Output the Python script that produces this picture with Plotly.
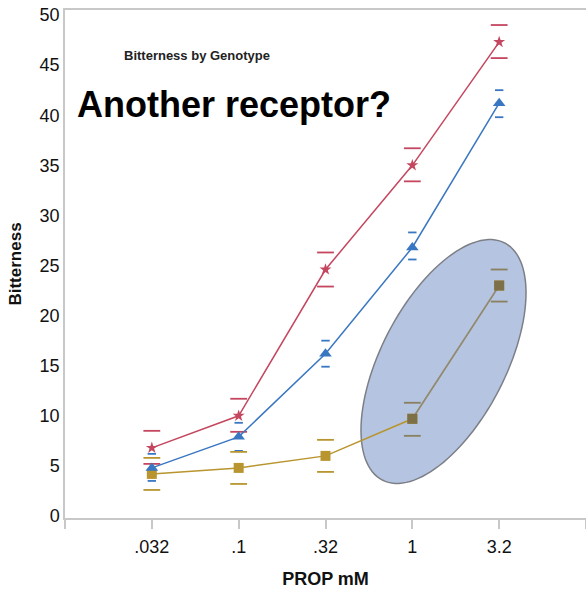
import numpy as np
import plotly.graph_objects as go

categories = [".032", ".1", ".32", "1", "3.2"]
xpos = [1, 2, 3, 4, 5]

red_mean = [6.8, 10.0, 24.6, 35.0, 47.3]
red_hi = [8.5, 11.7, 26.3, 36.7, 49.0]
red_lo = [5.2, 8.4, 22.9, 33.4, 45.7]

blue_mean = [4.8, 7.9, 16.2, 26.8, 41.2]
blue_hi = [6.2, 9.3, 17.5, 28.3, 42.5]
blue_lo = [3.5, 6.5, 14.9, 25.6, 39.8]

gold_mean = [4.2, 4.8, 6.0, 9.7, 23.0]
gold_hi = [5.8, 6.4, 7.6, 11.3, 24.6]
gold_lo = [2.6, 3.2, 4.4, 8.0, 21.4]

RED = "#c4465f"
BLUE = "#3a77c2"
GOLD = "#b8952e"
GOLD_IN = "#7d7048"
LINE_IN = "#8c8a80"
FONT = "Liberation Sans, Arial, sans-serif"

fig = go.Figure()

# ellipse (highlight) drawn in paper coordinates
W, H = 521.0, 508.0
cx, cy = 443.5, 361.5
a, b = 133.4, 62.3
ang = np.deg2rad(62.7)
t = np.linspace(0, 2 * np.pi, 121)
ex = cx + a * np.cos(t) * np.cos(ang) - b * np.sin(t) * np.sin(ang)
ey = cy - (a * np.cos(t) * np.sin(ang) + b * np.sin(t) * np.cos(ang))
px = (ex - 65) / W
py = (518 - ey) / H
path = "M " + " L ".join(f"{x:.4f},{y:.4f}" for x, y in zip(px, py)) + " Z"
fig.add_shape(type="path", path=path, xref="paper", yref="paper",
              fillcolor="#b4c4e1", line=dict(color="#7d7f86", width=1.5), layer="below")


def caps(x, vals, color, size):
    fig.add_trace(go.Scatter(x=x, y=vals, mode="markers", showlegend=False, hoverinfo="skip",
                             marker=dict(symbol="line-ew", size=size,
                                         line=dict(color=color, width=1.8), color=color)))


gold_cap_colors = [GOLD, GOLD, GOLD, "#8a8060", "#8a8060"]

caps(xpos, red_hi, RED, 12)
caps(xpos, red_lo, RED, 12)
caps(xpos, blue_hi, BLUE, 6)
caps(xpos, blue_lo, BLUE, 6)
caps(xpos, gold_hi, gold_cap_colors, 12)
caps(xpos, gold_lo, gold_cap_colors, 12)

fig.add_trace(go.Scatter(x=xpos, y=gold_mean, mode="lines+markers", showlegend=False,
                         line=dict(color=GOLD, width=1.5),
                         marker=dict(symbol="square", size=10, color=GOLD)))
# part of gold series inside the highlight ellipse
fig.add_trace(go.Scatter(x=xpos[3:], y=gold_mean[3:], mode="lines+markers", showlegend=False,
                         line=dict(color=LINE_IN, width=1.5),
                         marker=dict(symbol="square", size=10, color=GOLD_IN)))
fig.add_trace(go.Scatter(x=xpos, y=blue_mean, mode="lines+markers", showlegend=False,
                         line=dict(color=BLUE, width=1.5),
                         marker=dict(symbol="triangle-up", size=11, color=BLUE)))
fig.add_trace(go.Scatter(x=xpos, y=red_mean, mode="lines+markers", showlegend=False,
                         line=dict(color=RED, width=1.5),
                         marker=dict(symbol="star", size=9, color=RED)))

fig.add_annotation(text="<b>Bitterness by Genotype</b>", xref="paper", yref="paper",
                   x=0.253, y=0.911, showarrow=False, xanchor="center", yanchor="middle",
                   font=dict(family=FONT, size=13, color="#222"))
fig.add_annotation(text="<b>Another receptor?</b>", xref="paper", yref="paper",
                   x=0.019, y=0.813, showarrow=False, xanchor="left", yanchor="middle",
                   font=dict(family=FONT, size=36, color="#000"))

fig.update_layout(
    width=586, height=590,
    margin=dict(l=65, r=0, t=10, b=72),
    paper_bgcolor="white", plot_bgcolor="white",
    font=dict(family=FONT, color="#111"),
)
fig.update_xaxes(range=[0, 6], tickmode="array", tickvals=[0] + xpos + [6],
                 ticktext=[""] + categories + [""],
                 showgrid=False, zeroline=False, showline=True, linecolor="#c8c8c8", linewidth=1.5,
                 mirror=True, ticks="outside", ticklen=9, tickcolor="#c8c8c8", tickwidth=1.5,
                 ticklabelstandoff=3,
                 tickfont=dict(size=18, color="#111"),
                 title=dict(text="<b>PROP mM</b>", font=dict(size=18, color="#111"), standoff=16))
fig.update_yaxes(range=[-0.2, 50.5], tickmode="array", tickvals=list(range(0, 51, 5)),
                 showgrid=False, zeroline=False, showline=True, linecolor="#c8c8c8", linewidth=1.5,
                 ticks="", tickfont=dict(size=18, color="#111"),
                 title=dict(text="<b>Bitterness</b>", font=dict(size=17, color="#111"), standoff=14))

fig.write_html("out.html")
